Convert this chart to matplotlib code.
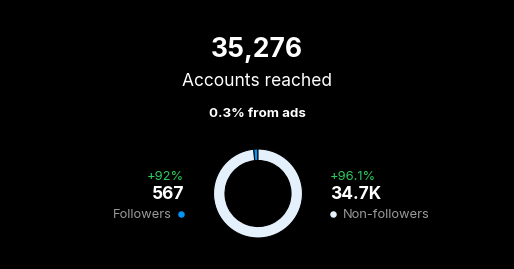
import matplotlib
matplotlib.use("Agg")
import matplotlib.pyplot as plt

# ---- data ----
total_reached = "35,276"
title_label = "Accounts reached"
ads_label = "0.3% from ads"
categories = ["Followers", "Non-followers"]
values = [567, 34709]
value_labels = ["567", "34.7K"]
changes = ["+92%", "+96.1%"]
colors = ["#0095F6", "#E4F1FC"]

W, H = 514, 269
plt.rcParams['font.family'] = ['Inter', 'DejaVu Sans']
fig = plt.figure(figsize=(W / 100, H / 100), dpi=100, facecolor="black")
ax = fig.add_axes([0, 0, 1, 1])
ax.set_facecolor("black")
ax.set_xlim(0, W)
ax.set_ylim(0, H)
ax.set_aspect("equal")
ax.axis("off")

def Y(y):
    return H - y

cx, cy, r = 258, 193.5, 44.5
ax.pie(values, colors=colors, startangle=90, counterclock=True,
       center=(cx, Y(cy)), radius=r,
       wedgeprops=dict(width=11.5, edgecolor="black", linewidth=0.8))
ax.set_xlim(0, W)
ax.set_ylim(0, H)

white = "white"
gray = "#9A9A9A"
green = "#30C95C"

ax.text(257, Y(56.7), total_reached, color=white, fontsize=19, fontweight="bold",
        ha="center", va="baseline")
ax.text(257, Y(85.5), title_label, color=white, fontsize=12.5,
        ha="center", va="baseline")
ax.text(257, Y(117.3), ads_label, color=white, fontsize=9.6, fontweight="bold",
        ha="center", va="baseline")

# left (followers)
ax.text(184.5, Y(179.5), changes[0], color=green, fontsize=9.3, ha="right", va="baseline")
ax.text(184.5, Y(199), value_labels[0], color=white, fontsize=12.5, fontweight="bold",
        ha="right", va="baseline")
ax.text(172, Y(218.5), categories[0], color=gray, fontsize=9.3, ha="right", va="baseline")
ax.scatter([181.3], [Y(213.5)], s=22, color=colors[0], zorder=5, linewidths=0)

# right (non-followers)
ax.text(330, Y(179.5), changes[1], color=green, fontsize=9.3, ha="left", va="baseline")
ax.text(330, Y(199), value_labels[1], color=white, fontsize=12.5, fontweight="bold",
        ha="left", va="baseline")
ax.text(342.7, Y(218.5), categories[1], color=gray, fontsize=9.3, ha="left", va="baseline")
ax.scatter([333.3], [Y(213.5)], s=22, color=colors[1], zorder=5, linewidths=0)

fig.savefig("out.png", dpi=100, facecolor="black")
